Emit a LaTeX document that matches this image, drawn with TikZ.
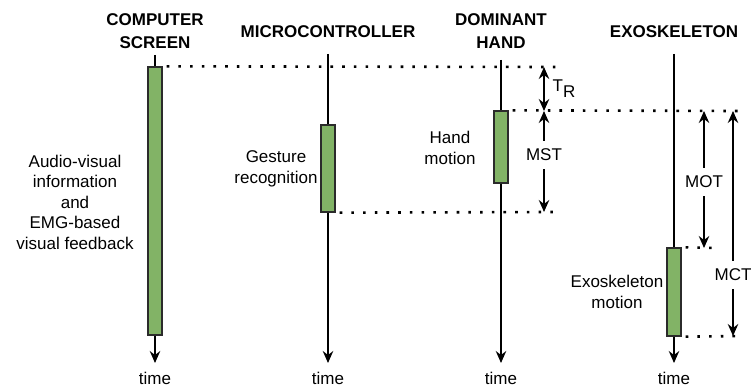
\documentclass[tikz,border=0pt]{standalone}
\usepackage{fontspec}
\setmainfont{Liberation Sans}
\usetikzlibrary{arrows.meta}
\definecolor{actfill}{HTML}{82B366}
\definecolor{actdraw}{HTML}{2B2B2B}
\tikzset{
  every node/.style={font=\fontsize{17}{20.5}\selectfont, inner sep=0pt},
  title/.style={font=\fontsize{17}{23}\selectfont\bfseries, align=center},
  side/.style={align=center},
  act/.style={draw=actdraw, fill=actfill, line width=1.3pt, minimum width=14pt},
  tip/.tip={Stealth[length=12pt,width=10.5pt,inset=4pt]},
  life/.style={line width=1.2pt, -tip},
  plain/.style={line width=1.2pt},
  dots/.style={line width=2.6pt, dash pattern=on 2.6pt off 9.1pt},
  meas/.style={line width=1.2pt, -tip},
  dmeas/.style={line width=1.2pt, tip-tip},
  lab/.style={inner xsep=2pt, inner ysep=8pt}
}
\begin{document}
\begin{tikzpicture}[x=1pt,y=-1pt]
\useasboundingbox (0,0) rectangle (751,387);
% titles
\node[title] (tcs) at (155,31) {COMPUTER\\SCREEN};
\node[title] (tmc) at (328,32) {MICROCONTROLLER};
\node[title] (tdh) at (501,31) {DOMINANT\\HAND};
\node[title] (tex) at (674,32) {EXOSKELETON};
% lifeline tops and ends
\coordinate (cstop) at (155,55);
\coordinate (mctop) at (328,54);
\coordinate (dhtop) at (501,60);
\coordinate (extop) at (674,54);
\node (cstime) at (155,378) {time};
\node (mctime) at (328,378) {time};
\node (dhtime) at (501,378) {time};
\node (extime) at (674,378) {time};
\coordinate (csend) at (155,363);
\coordinate (mcend) at (328,363);
\coordinate (dhend) at (501,363);
\coordinate (exend) at (674,363);
% activation boxes
\node[act, minimum height=268pt] (cs) at (155,201) {};
\node[act, minimum height=87pt] (mc) at (328,168.5) {};
\node[act, minimum height=72pt] (dh) at (501,147) {};
\node[act, minimum height=88pt] (ex) at (674,292) {};
% lifelines
\draw[plain] (cstop) -- (cs.north);
\draw[life] (cs.south) -- (csend);
\draw[plain] (mctop) -- (mc.north);
\draw[life] (mc.south) -- (mcend);
\draw[plain] (dhtop) -- (dh.north);
\draw[life] (dh.south) -- (dhend);
\draw[plain] (extop) -- (ex.north);
\draw[life] (ex.south) -- (exend);
% side labels
\node[side] (scs) at (75,202) {Audio-visual\\information\\and\\EMG-based\\visual feedback};
\node[side] (smc) at (276,169) {Gesture\\recognition};
\node[side] (sdh) at (450,148) {Hand\\motion};
\node[side] (sex) at (617,292) {Exoskeleton\\motion};
% dotted guides
\coordinate (d1) at (558,67);
\coordinate (d2) at (740,111);
\coordinate (d3) at (553,212);
\coordinate (d4) at (716,248);
\coordinate (d5) at (740,336);
\draw[dots] ([xshift=4pt]cs.north east) -- (d1);
\draw[dots] ([xshift=4pt]dh.north east) -- (d2);
\draw[dots] ([xshift=4pt]mc.south east) -- (d3);
\draw[dots] ([xshift=4pt]ex.north east) -- (d4);
\draw[dots] ([xshift=4pt]ex.south east) -- (d5);
% measurements
\coordinate (tra) at (544,67);
\coordinate (trb) at (544,111);
\draw[dmeas] (tra) -- (trb);
\node (tr) at (564,89) {T\raisebox{-6pt}{R}};
\node[lab] (mst) at (544,155) {MST};
\coordinate (msta) at (544,111);
\coordinate (mstb) at (544,212);
\draw[meas] (mst.north) -- (msta);
\draw[meas] (mst.south) -- (mstb);
\node[lab] (mot) at (704,182) {MOT};
\coordinate (mota) at (704,111);
\coordinate (motb) at (704,248);
\draw[meas] (mot.north) -- (mota);
\draw[meas] (mot.south) -- (motb);
\node[lab] (mct) at (733,275) {MCT};
\coordinate (mcta) at (733,111);
\coordinate (mctb) at (733,336);
\draw[meas] (mct.north) -- (mcta);
\draw[meas] (mct.south) -- (mctb);
\end{tikzpicture}
\end{document}
